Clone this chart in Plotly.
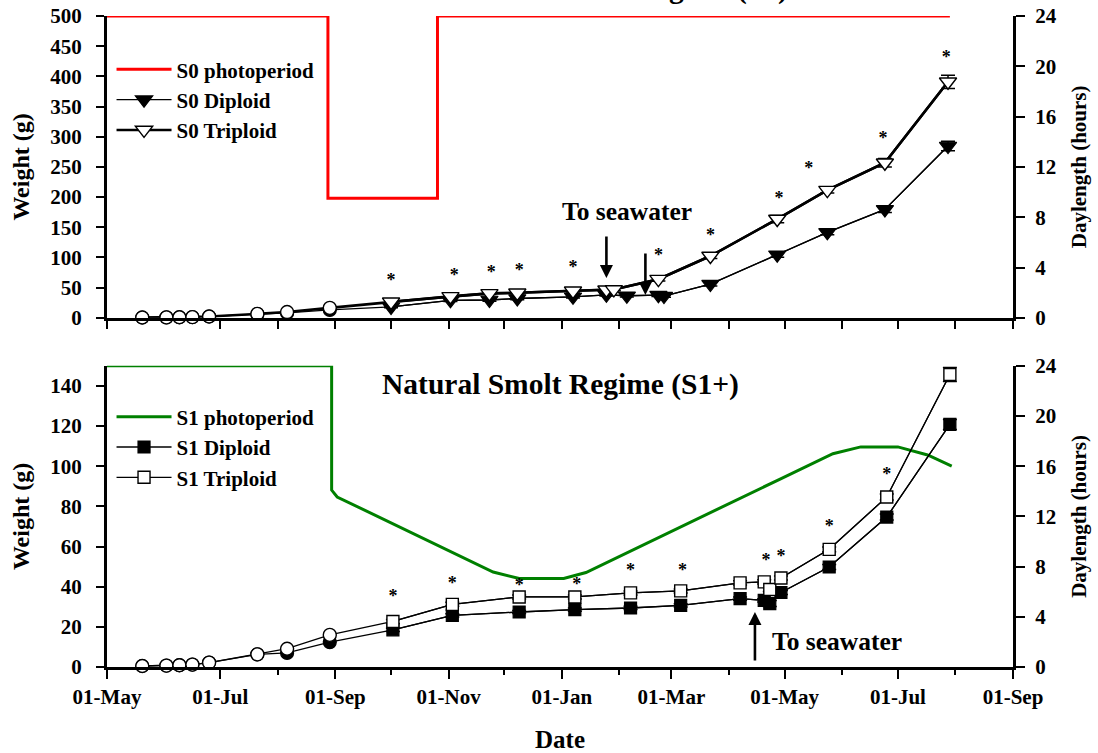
import plotly.graph_objects as go

# ---------------- data ----------------
pre_dates = ["2009-05-20", "2009-06-02", "2009-06-09", "2009-06-16", "2009-06-25",
             "2009-07-21", "2009-08-06", "2009-08-29"]

# S0 (top panel)
s0_pre_dip = [0.5, 0.7, 0.9, 1.2, 2.2, 6.3, 8.0, 13.0]
s0_pre_tri = [0.5, 0.7, 0.9, 1.2, 2.2, 6.5, 9.5, 16.5]
s0_dip_dates = ["2009-10-01", "2009-11-02", "2009-11-23", "2009-12-08", "2010-01-07",
                "2010-01-25", "2010-02-05", "2010-02-22", "2010-02-25", "2010-03-22",
                "2010-04-27", "2010-05-24", "2010-06-24", "2010-07-28"]
s0_dip = [18.0, 29.0, 29.5, 32.0, 34.8, 38.0, 36.5, 37.5, 36.0, 55.8, 104.5, 141.5, 179.6, 284.6]
s0_dip_err = [1.5, 2, 2, 2, 2, 2, 2, 2, 2, 3, 4, 4, 5, 8]
s0_tri_dates = ["2009-10-01", "2009-11-02", "2009-11-23", "2009-12-08", "2010-01-07",
                "2010-01-25", "2010-01-29", "2010-02-22", "2010-03-22", "2010-04-27",
                "2010-05-24", "2010-06-24", "2010-07-28"]
s0_tri = [26.5, 35.5, 40.5, 41.4, 44.7, 46.5, 47.0, 64.0, 102.3, 163.6, 211.6, 256.9, 391.0]
s0_tri_err = [2, 2, 2, 2, 2, 2, 2, 3, 4, 6, 5, 7, 11]
s0_photo_dates = ["2009-05-01", "2009-08-28", "2009-08-28", "2009-10-26", "2009-10-26", "2010-07-29"]
s0_photo_hours = [24, 24, 9.5, 9.5, 24, 24]
s0_star_dates = ["2009-10-01", "2009-11-04", "2009-11-24", "2009-12-09", "2010-01-07",
                 "2010-02-22", "2010-03-22", "2010-04-28", "2010-05-14", "2010-06-23", "2010-07-27"]
s0_star_y = [59.7, 67.9, 73.6, 76.2, 81.9, 101.1, 134.2, 196.2, 245.9, 295.7, 429.9]
s0_arrow_dates = ["2010-01-25", "2010-02-15"]
s0_arrow_tail = [137, 109]
s0_arrow_head = [65.8, 37.6]

# S1+ (bottom panel)
s1_pre_dip = [0.5, 0.7, 0.9, 1.2, 2.2, 6.3, 7.0, 12.4]
s1_pre_tri = [0.5, 0.7, 0.9, 1.2, 2.2, 6.3, 9.1, 16.0]
s1_dates = ["2009-10-02", "2009-11-03", "2009-12-09", "2010-01-08", "2010-02-07",
            "2010-03-06", "2010-04-07", "2010-04-20", "2010-04-23", "2010-04-29",
            "2010-05-25", "2010-06-25", "2010-07-29"]
s1_dip = [18.5, 25.7, 27.4, 28.6, 29.4, 30.7, 34.1, 33.2, 31.6, 37.1, 49.8, 74.7, 120.8]
s1_dip_err = [0.8, 0.8, 0.8, 0.8, 0.8, 0.8, 0.8, 0.8, 1.5, 1.0, 1.2, 1.5, 2.5]
s1_tri = [22.7, 31.2, 34.9, 34.9, 36.9, 37.9, 41.9, 42.4, 38.6, 44.3, 58.6, 84.7, 145.7]
s1_tri_err = [1, 1, 1, 1, 1, 1, 1, 1, 1, 1, 1.2, 1.5, 3.5]
s1_photo_dates = ["2009-05-01", "2009-08-30", "2009-08-30", "2009-09-02", "2009-11-25",
                  "2009-12-09", "2010-01-02", "2010-01-14", "2010-04-28", "2010-05-27",
                  "2010-06-11", "2010-07-01", "2010-07-17", "2010-07-30"]
s1_photo_hours = [24, 24, 14.1, 13.55, 7.57, 7.05, 7.05, 7.53, 14.94, 17.0, 17.54, 17.54, 16.9, 16.0]
s1_star_dates = ["2009-10-02", "2009-11-03", "2009-12-09", "2010-01-09", "2010-02-07",
                 "2010-03-07", "2010-04-21", "2010-04-29", "2010-05-25", "2010-06-25", "2010-07-29"]
s1_star_y = [34.6, 41.1, 40.2, 40.7, 47.8, 47.8, 52.3, 54.5, 69.5, 95.5, 156.5]
s1_arrow_dates = ["2010-04-15"]
s1_arrow_tail = [2.5]
s1_arrow_head = [27.4]

major_ticks = ["2009-05-01", "2009-07-01", "2009-09-01", "2009-11-01", "2010-01-01",
               "2010-03-01", "2010-05-01", "2010-07-01", "2010-09-01"]
major_labels = ["01-May", "01-Jul", "01-Sep", "01-Nov", "01-Jan", "01-Mar", "01-May", "01-Jul", "01-Sep"]
month_ticks = ["2009-05-01", "2009-07-01", "2009-08-01", "2009-09-01", "2009-10-01",
               "2009-11-01", "2009-12-01", "2010-01-01", "2010-02-01", "2010-03-01",
               "2010-04-01", "2010-05-01", "2010-06-01", "2010-07-01", "2010-08-01", "2010-09-01"]

X_RANGE = ["2009-05-01", "2010-09-01"]
FONT = "Liberation Serif"

fig = go.Figure()


def add_panel(xa, ya_h, ya_w, legend, photo_d, photo_h, photo_name, photo_color,
              pre_dip, pre_tri, dip_d, dip, dip_err, tri_d, tri, tri_err,
              dip_name, tri_name, sym, msize, tri_lw, star_d, star_y):
    fig.add_trace(go.Scatter(x=photo_d, y=photo_h, mode="lines", name=photo_name,
                             line=dict(color=photo_color, width=3), xaxis=xa, yaxis=ya_h,
                             legend=legend, cliponaxis=False))
    # connecting lines (pre + post)
    fig.add_trace(go.Scatter(x=pre_dates + dip_d, y=pre_dip + dip, mode="lines",
                             line=dict(color="black", width=1.3), xaxis=xa, yaxis=ya_w,
                             showlegend=False, legend=legend))
    fig.add_trace(go.Scatter(x=pre_dates + tri_d, y=pre_tri + tri, mode="lines",
                             line=dict(color="black", width=tri_lw), xaxis=xa, yaxis=ya_w,
                             showlegend=False, legend=legend))
    fig.add_trace(go.Scatter(x=dip_d, y=dip, mode="lines+markers", name=dip_name,
                             line=dict(color="black", width=1.3),
                             marker=dict(symbol=sym, size=msize, color="black",
                                         line=dict(color="black", width=1.2)),
                             error_y=dict(type="data", array=dip_err, color="black",
                                          thickness=1.5, width=7),
                             xaxis=xa, yaxis=ya_w, legend=legend, cliponaxis=False))
    fig.add_trace(go.Scatter(x=tri_d, y=tri, mode="lines+markers", name=tri_name,
                             line=dict(color="black", width=tri_lw),
                             marker=dict(symbol=sym, size=msize, color="white",
                                         line=dict(color="black", width=1.4)),
                             error_y=dict(type="data", array=tri_err, color="black",
                                          thickness=1.5, width=7),
                             xaxis=xa, yaxis=ya_w, legend=legend, cliponaxis=False))
    fig.add_trace(go.Scatter(x=pre_dates, y=pre_dip, mode="markers",
                             marker=dict(symbol="circle", size=13, color="black",
                                         line=dict(color="black", width=1.2)),
                             xaxis=xa, yaxis=ya_w, showlegend=False, legend=legend,
                             cliponaxis=False))
    fig.add_trace(go.Scatter(x=pre_dates, y=pre_tri, mode="markers",
                             marker=dict(symbol="circle", size=13, color="white",
                                         line=dict(color="black", width=1.4)),
                             xaxis=xa, yaxis=ya_w, showlegend=False, legend=legend,
                             cliponaxis=False))
    fig.add_trace(go.Scatter(x=star_d, y=star_y, mode="text", text=["*"] * len(star_d),
                             textposition="middle center",
                             textfont=dict(family=FONT, size=18, color="black"),
                             xaxis=xa, yaxis=ya_w, showlegend=False, legend=legend,
                             cliponaxis=False))


add_panel("x", "y", "y2", "legend", s0_photo_dates, s0_photo_hours, "S0 photoperiod", "#ff0000",
          s0_pre_dip, s0_pre_tri, s0_dip_dates, s0_dip, s0_dip_err, s0_tri_dates, s0_tri, s0_tri_err,
          "S0 Diploid", "S0 Triploid", "triangle-down", 15, 2.6,
          s0_star_dates, s0_star_y)
add_panel("x2", "y3", "y4", "legend2", s1_photo_dates, s1_photo_hours, "S1 photoperiod", "#008000",
          s1_pre_dip, s1_pre_tri, s1_dates, s1_dip, s1_dip_err, s1_dates, s1_tri, s1_tri_err,
          "S1 Diploid", "S1 Triploid", "square", 12, 1.3,
          s1_star_dates, s1_star_y)

# arrows
annotations = []
for d, t, h in zip(s0_arrow_dates, s0_arrow_tail, s0_arrow_head):
    annotations.append(dict(x=d, y=h, ax=d, ay=t, xref="x", yref="y2", axref="x", ayref="y2",
                            text="", showarrow=True, arrowhead=2, arrowsize=1, arrowwidth=2.6,
                            arrowcolor="black"))
for d, t, h in zip(s1_arrow_dates, s1_arrow_tail, s1_arrow_head):
    annotations.append(dict(x=d, y=h, ax=d, ay=t, xref="x2", yref="y4", axref="x2", ayref="y4",
                            text="", showarrow=True, arrowhead=2, arrowsize=1, arrowwidth=2.6,
                            arrowcolor="black"))
annotations.append(dict(x="2009-12-31", y=176.8, xref="x", yref="y2", text="To seawater",
                        showarrow=False, xanchor="left", yanchor="middle",
                        font=dict(family=FONT, size=25.5, color="black", weight="bold")))
annotations.append(dict(x="2010-04-23", y=12.8, xref="x2", yref="y4", text="To seawater",
                        showarrow=False, xanchor="left", yanchor="middle",
                        font=dict(family=FONT, size=25.5, color="black", weight="bold")))
annotations.append(dict(x=0.501, y=0.4345, xref="paper", yref="paper",
                        text="Natural Smolt Regime (S1+)", showarrow=False,
                        xanchor="center", yanchor="middle",
                        font=dict(family=FONT, size=29.5, color="black", weight="bold")))
annotations.append(dict(x=0.7539, y=1.0144, xref="paper", yref="paper",
                        text="Accelerated Smolt Regime (S0)", showarrow=False,
                        xanchor="right", yanchor="bottom",
                        font=dict(family=FONT, size=29.5, color="black", weight="bold")))

axis_common = dict(showline=True, linewidth=3, linecolor="black", ticks="outside",
                   tickwidth=2, tickcolor="black", showgrid=False, zeroline=False,
                   automargin=False,
                   tickfont=dict(family=FONT, size=21, color="black", weight="bold"))

TOP_DOM = [0.5364, 1.0]
BOT_DOM = [0.0, 0.4626]

fig.update_layout(
    width=1098, height=753,
    margin=dict(l=107, r=85, t=16, b=86),
    paper_bgcolor="white", plot_bgcolor="rgba(0,0,0,0)",
    font=dict(family=FONT, size=21, color="black", weight="bold"),
    showlegend=True,
    xaxis=dict(axis_common, domain=[0, 1], anchor="y", range=X_RANGE, type="date",
               tickmode="array", tickvals=month_ticks, showticklabels=False, ticklen=8),
    xaxis2=dict(axis_common, domain=[0, 1], anchor="y3", range=X_RANGE, type="date",
                tickmode="array", tickvals=major_ticks, ticktext=major_labels, ticklen=9,
                minor=dict(tickmode="array", tickvals=month_ticks, ticklen=5, tickwidth=2,
                           tickcolor="black", ticks="outside"),
                title=dict(text="Date", standoff=28,
                           font=dict(family=FONT, size=25, color="black", weight="bold"))),
    yaxis=dict(axis_common, domain=TOP_DOM, anchor="x", side="right", range=[0, 24],
               tickmode="array", tickvals=[0, 4, 8, 12, 16, 20, 24], ticklen=9,
               ticklabelstandoff=6,
               title=dict(text="Daylength (hours)", standoff=16,
                          font=dict(family=FONT, size=21, color="black", weight="bold"))),
    yaxis2=dict(axis_common, overlaying="y", anchor="x", side="left", range=[0, 500],
                tickmode="array", tickvals=list(range(0, 501, 50)), ticklen=8,
                ticklabelstandoff=10,
                title=dict(text="Weight (g)", standoff=14,
                           font=dict(family=FONT, size=24, color="black", weight="bold"))),
    yaxis3=dict(axis_common, domain=BOT_DOM, anchor="x2", side="right", range=[0, 24],
                tickmode="array", tickvals=[0, 4, 8, 12, 16, 20, 24], ticklen=9,
                ticklabelstandoff=6,
                title=dict(text="Daylength (hours)", standoff=16,
                           font=dict(family=FONT, size=21, color="black", weight="bold"))),
    yaxis4=dict(axis_common, overlaying="y3", anchor="x2", side="left", range=[0, 150],
                tickmode="array", tickvals=list(range(0, 141, 20)), ticklen=8,
                ticklabelstandoff=10,
                title=dict(text="Weight (g)", standoff=14,
                           font=dict(family=FONT, size=24, color="black", weight="bold"))),
    legend=dict(x=0.005, y=0.949, xanchor="left", yanchor="top", bgcolor="rgba(0,0,0,0)",
                font=dict(family=FONT, size=21, color="black", weight="bold"),
                itemwidth=55, tracegroupgap=0),
    legend2=dict(x=0.005, y=0.4154, xanchor="left", yanchor="top", bgcolor="rgba(0,0,0,0)",
                 font=dict(family=FONT, size=21, color="black", weight="bold"),
                 itemwidth=55, tracegroupgap=0),
    annotations=annotations,
)

fig.write_html("out.html")
